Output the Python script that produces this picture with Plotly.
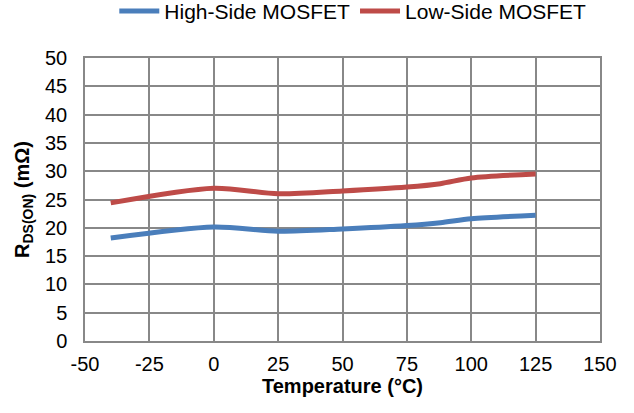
import plotly.graph_objects as go

temperature = [-40, 0, 25, 50, 75, 88, 100, 125]
high_side = [18.2, 20.15, 19.4, 19.8, 20.4, 20.9, 21.6, 22.2]
low_side = [24.4, 27.0, 26.0, 26.5, 27.2, 27.8, 28.8, 29.5]

x_ticks = [-50, -25, 0, 25, 50, 75, 100, 125, 150]
y_ticks = [0, 5, 10, 15, 20, 25, 30, 35, 40, 45, 50]

fig = go.Figure()
fig.add_trace(go.Scatter(x=temperature, y=high_side, mode="lines", name="High-Side MOSFET",
                         line=dict(color="#4A7EBB", width=5, shape="spline", smoothing=0.8)))
fig.add_trace(go.Scatter(x=temperature, y=low_side, mode="lines", name="Low-Side MOSFET",
                         line=dict(color="#BE4B48", width=5, shape="spline", smoothing=0.8)))

font_family = "Liberation Sans, Arial, sans-serif"
fig.update_layout(
    width=634, height=413,
    margin=dict(l=85, r=34, t=58, b=72, autoexpand=False),
    paper_bgcolor="white", plot_bgcolor="white",
    font=dict(family=font_family, size=20, color="black"),
    legend=dict(orientation="h", x=0.52, xanchor="center", y=1.165, yanchor="middle",
                font=dict(size=21), itemwidth=40, tracegroupgap=0),
    xaxis=dict(range=[-50, 150], tickvals=x_ticks, ticktext=[str(v) for v in x_ticks],
               showgrid=True, gridcolor="#888888", gridwidth=1.5,
               showline=True, linecolor="#888888", linewidth=1.5, mirror=True,
               zeroline=False, ticks="", ticklen=0, ticklabelstandoff=4,
               tickfont=dict(size=20),
               title=dict(text="<b>Temperature (°C)</b>", font=dict(size=20), standoff=0)),
    yaxis=dict(range=[0, 50], tickvals=y_ticks, ticktext=[str(v) for v in y_ticks],
               showgrid=True, gridcolor="#888888", gridwidth=1.5,
               showline=True, linecolor="#888888", linewidth=1.5, mirror=True,
               zeroline=False, ticks="", ticklen=0, ticklabelstandoff=12,
               tickfont=dict(size=20),
               title=dict(text="<b>R<sub>DS(ON)</sub> (mΩ)</b>", font=dict(size=20), standoff=10)),
)

fig.write_html("out.html", config={"displayModeBar": False},
               post_script="document.body.style.margin='0px';")
